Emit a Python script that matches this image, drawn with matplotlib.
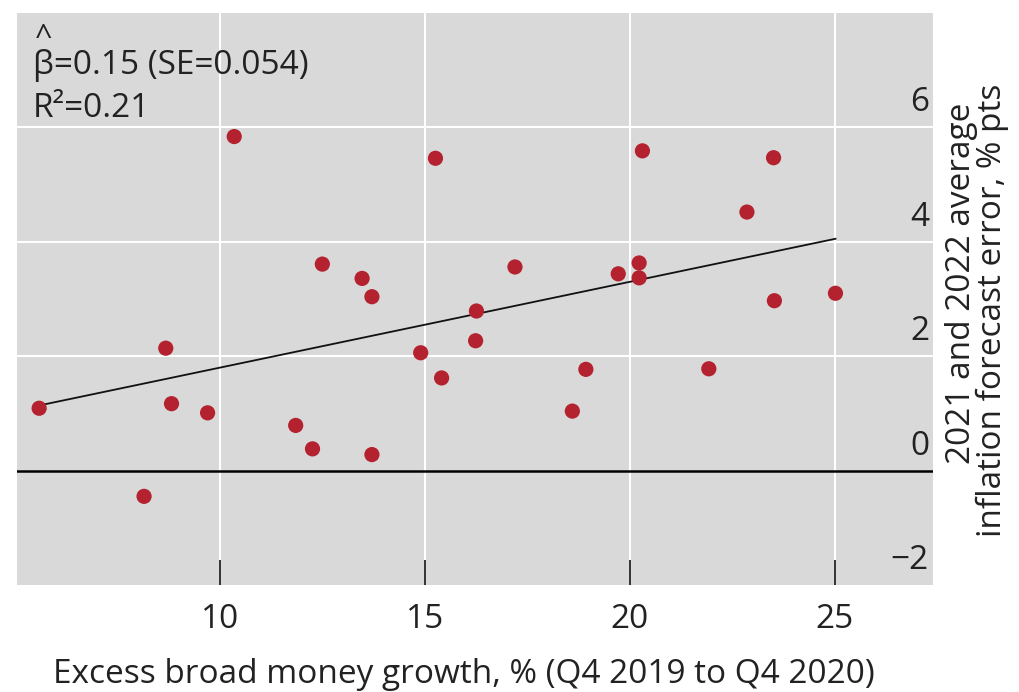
import matplotlib
matplotlib.use("Agg")
import matplotlib.pyplot as plt
import matplotlib.transforms as mtransforms
import numpy as np

# Excess broad money growth (%, Q4 2019 to Q4 2020)
money_growth = [5.59, 10.35, 15.26, 12.50, 13.47, 13.71, 17.20, 16.26, 16.24,
                8.68, 14.90, 15.41, 8.82, 9.70, 11.85, 12.26, 13.71, 8.15,
                20.31, 23.51, 22.86, 20.23, 19.72, 20.23, 23.53, 25.02,
                18.93, 21.93, 18.60]
# 2021 and 2022 average inflation forecast error (% pts)
forecast_error = [1.09, 5.84, 5.46, 3.61, 3.36, 3.04, 3.56, 2.79, 2.27,
                  2.14, 2.06, 1.62, 1.17, 1.01, 0.79, 0.38, 0.28, -0.45,
                  5.59, 5.47, 4.52, 3.63, 3.44, 3.37, 2.97, 3.10,
                  1.77, 1.78, 1.04]

beta_hat = 0.15
intercept = 0.30
beta_se = 0.054
r_squared = 0.21

x_ticks = [10, 15, 20, 25]
y_ticks = [-2, 0, 2, 4, 6]

plt.rcParams["font.family"] = ["Open Sans", "DejaVu Sans"]
FS = 24
TEXT_COLOR = "#222222"

fig = plt.figure(figsize=(10.2, 6.92), dpi=100)
ax = fig.add_axes([17 / 1020, 107 / 692, 916 / 1020, 572 / 692])
ax.set_facecolor("#d9d9d9")
for s in ax.spines.values():
    s.set_visible(False)

ax.set_xlim(5.05, 27.4)
ax.set_ylim(-2, 8)

# grid
for xv in x_ticks:
    ax.axvline(xv, color="white", lw=1.5, zorder=1)
for yv in [2, 4, 6]:
    ax.axhline(yv, color="white", lw=1.5, zorder=1)
ax.axhline(0, color="black", lw=1.8, zorder=2)

# regression line over the sample range
xs = np.array([min(money_growth), max(money_growth)])
ax.plot(xs, intercept + beta_hat * xs, color="#111111", lw=1.3, zorder=3)

ax.scatter(money_growth, forecast_error, s=120, color="#b3222e",
           edgecolors="none", zorder=4)

# x axis: inward ticks at the bottom
ax.set_xticks(x_ticks)
ax.set_xticklabels([str(v) for v in x_ticks])
ax.tick_params(axis="x", direction="in", length=18, width=1.3, color="#222222",
               pad=13, labelsize=FS, labelcolor=TEXT_COLOR)
ax.set_yticks([])

# y tick labels sit inside the panel, above each grid line
offset = mtransforms.ScaledTranslation(-4 / 100, 8 / 100, fig.dpi_scale_trans)
trans = mtransforms.blended_transform_factory(ax.transAxes, ax.transData) + offset
for yv in y_ticks:
    lab = str(yv).replace("-", "\u2212")
    ax.text(1.0, yv, lab, transform=trans, ha="right", va="bottom",
            fontsize=FS, color=TEXT_COLOR)

fig.text(464 / 1020, 1 - 683 / 692,
         "Excess broad money growth, % (Q4 2019 to Q4 2020)",
         ha="center", va="baseline", fontsize=FS, color=TEXT_COLOR)

fig.text(962 / 1020, 1 - 283 / 692, "2021 and 2022 average", rotation=90,
         ha="center", va="center", fontsize=FS, color=TEXT_COLOR)
fig.text(992 / 1020, 1 - 310 / 692, "inflation forecast error, % pts",
         rotation=90, ha="center", va="center", fontsize=FS, color=TEXT_COLOR)

# regression statistics
fig.text(33 / 1020, 1 - 74 / 692, f"\u03b2={beta_hat:.2f} (SE={beta_se})",
         ha="left", va="baseline", fontsize=FS, color=TEXT_COLOR)
fig.text(35 / 1020, 1 - 46 / 692, "^", ha="left", va="baseline",
         fontsize=FS - 2, color=TEXT_COLOR)
fig.text(33 / 1020, 1 - 117 / 692, f"R\u00b2={r_squared:.2f}",
         ha="left", va="baseline", fontsize=FS, color=TEXT_COLOR)

fig.savefig("out.png", dpi=100, facecolor="white")
